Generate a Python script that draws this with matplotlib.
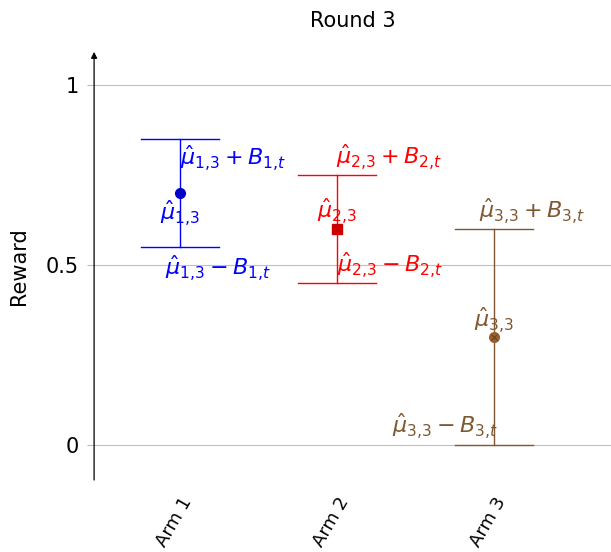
import matplotlib.pyplot as plt

arms = ["Arm 1", "Arm 2", "Arm 3"]
positions = [1, 2, 3]
means = [0.7, 0.6, 0.3]
bonus = [0.15, 0.15, 0.3]
line_colors = ["#0000ff", "#ff0000", "#7f5730"]
marker_colors = ["#0000cc", "#cc0000", "#99602f"]
markers = ["o", "s", "o"]

# label positions (x, y, ha) for upper / mean / lower annotations
upper_pos = [(1.0, 0.797, "left"), (2.33, 0.80, "center"), (3.24, 0.65, "center")]
mean_pos = [(1.0, 0.644, "center"), (2.0, 0.65, "center"), (3.0, 0.347, "center")]
lower_pos = [(1.24, 0.492, "center"), (2.0, 0.50, "left"), (2.69, 0.053, "center")]

FONT = 16

fig = plt.figure(figsize=(6.11, 5.52), dpi=100)
ax = fig.add_axes([0.154, 0.1304, 0.846, 0.7756])

for i, (x, m, b) in enumerate(zip(positions, means, bonus)):
    lc = line_colors[i]
    ax.plot([x, x], [m - b, m + b], color=lc, lw=1, zorder=3)
    for y in (m - b, m + b):
        ax.plot([x - 0.25, x + 0.25], [y, y], color=lc, lw=1, zorder=3)
    ax.plot(x, m, marker=markers[i], markersize=7, color=marker_colors[i],
            markeredgecolor=marker_colors[i], zorder=4, linestyle="none")
    if i == 2:
        ax.plot(x, m, marker="x", markersize=5, color="#6a4520", mew=0.8,
                zorder=5, linestyle="none")
    k = i + 1
    ux, uy, uha = upper_pos[i]
    ax.text(ux, uy, rf"$\hat{{\mu}}_{{{k}{{,}}3}} + B_{{{k}{{,}}t}}$", color=lc,
            fontsize=FONT, ha=uha, va="center", zorder=6)
    mx, my, mha = mean_pos[i]
    ax.text(mx, my, rf"$\hat{{\mu}}_{{{k}{{,}}3}}$", color=lc,
            fontsize=FONT, ha=mha, va="center", zorder=6)
    lx, ly, lha = lower_pos[i]
    ax.text(lx, ly, rf"$\hat{{\mu}}_{{{k}{{,}}3}} - B_{{{k}{{,}}t}}$", color=lc,
            fontsize=FONT, ha=lha, va="center", zorder=6)

ax.set_xlim(0.452, 3.745)
ax.set_ylim(-0.097, 1.092)
ax.set_yticks([0, 0.5, 1], labels=["0", "0.5", "1"])
ax.set_xticks(positions, labels=arms, rotation=60, ha="right",
              rotation_mode="anchor")
ax.tick_params(axis="x", length=0, labelsize=13, pad=10)
ax.tick_params(axis="y", length=5, color="#bbbbbb", labelsize=15, pad=6)
ax.grid(axis="y", color="#c0c0c0", lw=0.8)
ax.set_axisbelow(True)
for s in ax.spines.values():
    s.set_visible(False)
ax.annotate("", xy=(0, 1.0), xycoords="axes fraction", xytext=(0, 0),
            textcoords="axes fraction",
            arrowprops=dict(arrowstyle="-|>", color="black", lw=0.9,
                            mutation_scale=9, shrinkA=0, shrinkB=0))
ax.set_ylabel("Reward", fontsize=15, labelpad=12)
ax.set_title("Round 3", fontsize=15, pad=18)

fig.savefig("out.png", dpi=100)
